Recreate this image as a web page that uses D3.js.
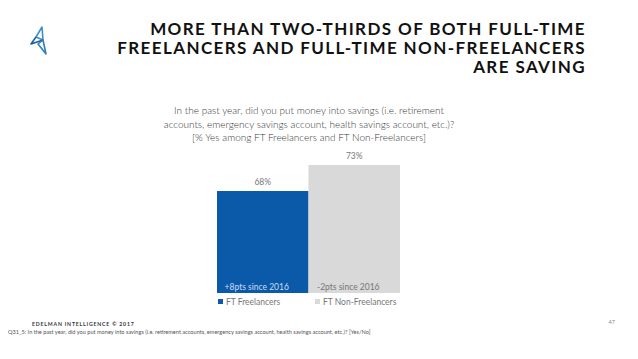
<!DOCTYPE html>
<html lang="en">
<head>
    <meta charset="UTF-8">
    <title>Saving</title>
    <script src="https://cdn.jsdelivr.net/npm/d3@7"></script>
    <style>
        body { margin: 0; background: #fff; }
        svg { display: block; font-family: Lato, "Open Sans", sans-serif; }
    </style>
</head>
<body>
    <svg width="638" height="359"></svg>

    <script>
        var categories = ["FT Freelancers", "FT Non-Freelancers"];
        var values = [68, 73];
        var changes = ["+8pts since 2016", "-2pts since 2016"];
        var colors = ["#0b5aaa", "#d9d9d9"];

        var svg = d3.select("svg");

        // title, right aligned
        var titleLines = ["MORE THAN TWO-THIRDS OF BOTH FULL-TIME",
                          "FREELANCERS AND FULL-TIME NON-FREELANCERS",
                          "ARE SAVING"];
        svg.append("g").selectAll("text")
            .data(titleLines)
          .enter().append("text")
            .attr("x", 586)
            .attr("y", (d, i) => 35 + i * 19)
            .attr("text-anchor", "end")
            .attr("font-size", 17)
            .attr("font-weight", 700)
            .attr("letter-spacing", 1.4)
            .attr("fill", "#111")
            .text(d => d);

        // little logo
        var logo = svg.append("g").attr("transform", "translate(30,27)")
            .attr("fill", "none").attr("stroke-width", 1.6).attr("stroke-linejoin", "round");
        logo.append("path").attr("d", "M12,0 L6,10 L13,13 Z").attr("stroke", "#3a8fc8");
        logo.append("path").attr("d", "M6,10 L1,17 L13,13").attr("stroke", "#1f5e96");
        logo.append("path").attr("d", "M13,13 L8,17 L16,27 Z").attr("stroke", "#2f7fbf");

        // question
        var question = ["In the past year, did you put money into savings (i.e. retirement",
                        "accounts, emergency savings account, health savings account, etc.)?",
                        "[% Yes among FT Freelancers and FT Non-Freelancers]"];
        svg.append("g").selectAll("text")
            .data(question)
          .enter().append("text")
            .attr("x", 309)
            .attr("y", (d, i) => 114 + i * 13.5)
            .attr("text-anchor", "middle")
            .attr("font-size", 10)
            .attr("font-weight", 300)
            .attr("fill", "#3a3a3a")
            .text(d => d);

        // bars
        var x = d3.scaleBand().domain(categories).range([217, 400]).padding(0);
        var y = d3.scaleLinear().domain([48.4, 73]).range([293, 165]);

        var bars = svg.append("g").selectAll("g")
            .data(categories)
          .enter().append("g");

        bars.append("rect")
            .attr("x", d => x(d))
            .attr("y", (d, i) => y(values[i]))
            .attr("width", x.bandwidth())
            .attr("height", (d, i) => y.range()[0] - y(values[i]))
            .attr("fill", (d, i) => colors[i]);

        bars.append("text")
            .attr("x", d => x(d) + x.bandwidth() / 2)
            .attr("y", (d, i) => y(values[i]) - 6)
            .attr("text-anchor", "middle")
            .attr("font-size", 8.5)
            .attr("fill", "#777")
            .text((d, i) => values[i] + "%");

        bars.append("text")
            .attr("x", d => x(d) + x.bandwidth() / 2 - 6)
            .attr("y", 290)
            .attr("text-anchor", "middle")
            .attr("font-size", 8.5)
            .attr("fill", (d, i) => i === 0 ? "#c9dcf0" : "#777")
            .text((d, i) => changes[i]);

        // legend
        var legend = svg.append("g").selectAll("g")
            .data(categories)
          .enter().append("g")
            .attr("transform", (d, i) => "translate(" + [218, 315][i] + ",299)");
        legend.append("rect")
            .attr("width", 5).attr("height", 5)
            .attr("fill", (d, i) => colors[i]);
        legend.append("text")
            .attr("x", 8).attr("y", 5.5)
            .attr("font-size", 8.5)
            .attr("fill", "#777")
            .text(d => d);

        // footer
        svg.append("text")
            .attr("x", 32).attr("y", 326)
            .attr("font-size", 5.2)
            .attr("font-weight", 700)
            .attr("letter-spacing", 0.8)
            .attr("fill", "#333")
            .text("EDELMAN INTELLIGENCE © 2017");
        svg.append("text")
            .attr("x", 8).attr("y", 334)
            .attr("font-size", 5.6)
            .attr("fill", "#555")
            .text("Q31_5: In the past year, did you put money into savings (i.e. retirement accounts, emergency savings account, health savings account, etc.)? [Yes/No]");
        svg.append("text")
            .attr("x", 615).attr("y", 324)
            .attr("text-anchor", "end")
            .attr("font-size", 5.5)
            .attr("fill", "#888")
            .text("47");
    </script>
</body>
</html>
